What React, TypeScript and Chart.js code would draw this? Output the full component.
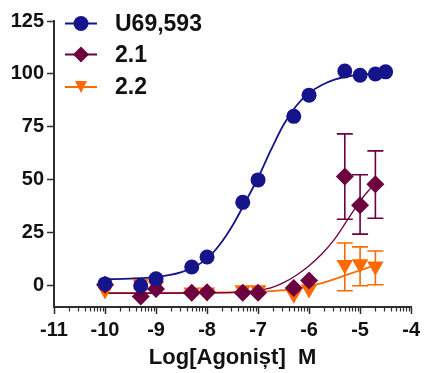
import React, { useEffect, useRef } from 'react';
import { Chart, registerables } from 'chart.js';

Chart.register(...registerables);

// ---------- DATA ----------
const seriesNames = ['U69,593', '2.1', '2.2'];
const xTickValues = [-11, -10, -9, -8, -7, -6, -5, -4];
const yTickValues = [0, 25, 50, 75, 100, 125];
const xTitle = 'Log[Agonișt]  M';

// U69,593 points
const u69X = [-10, -9.3, -9, -8.3, -8, -7.3, -7, -6.3, -6, -5.3, -5, -4.7, -4.5];
const u69Y = [0.9, 0, 3.3, 8.9, 13.6, 39.4, 50, 80, 90, 101.4, 99.4, 100, 101];

// 2.1 points + error bars
const c21X = [-10, -9.3, -9, -8.3, -8, -7.3, -7, -6.3, -6, -5.3, -5, -4.7];
const c21Y = [0.5, -5, -1.5, -3.3, -3, -3.3, -3.3, -1, 2.5, 51.6, 38, 48];
const c21Low = [null, null, null, null, null, null, null, null, null, 31.4, 24.4, 31.9];
const c21High = [null, null, null, null, null, null, null, null, null, 71.7, 52.4, 63.7];

// 2.2 points + error bars
const c22X = [-10, -9.3, -9, -8.3, -8, -7.3, -7, -6.3, -6, -5.3, -5, -4.7];
const c22Y = [-2, 1, 0, -3, -3, -2, -2, -4, -1.5, 10, 10.3, 9.2];
const c22Low = [null, null, null, null, null, null, null, null, null, -2.3, 0, 0.5];
const c22High = [null, null, null, null, null, null, null, null, null, 20.2, 18.4, 16.4];

// Fitted curves
const u69CurveX = [-10, -9.5, -9, -8.75, -8.5, -8.25, -8, -7.75, -7.5, -7.25, -7, -6.75, -6.5, -6.25, -6, -5.75, -5.5, -5.25, -5, -4.75, -4.5];
const u69CurveY = [3.1, 3.4, 4.1, 5, 6.5, 8.9, 12.8, 19.5, 28.5, 39.5, 51, 64, 76, 85, 91, 94.8, 97.3, 98.8, 99.7, 100.2, 100.5];
const c21CurveX = [-10, -9, -8, -7.5, -7, -6.75, -6.5, -6.25, -6, -5.75, -5.5, -5.25, -5, -4.85, -4.7];
const c21CurveY = [-3.5, -3.5, -3.4, -3.1, -2.2, -1, 1.5, 5, 9.5, 15, 22, 31, 40, 44.5, 48.5];
const c22CurveX = [-10, -9, -8, -7, -6.5, -6, -5.75, -5.5, -5.25, -5, -4.8, -4.6];
const c22CurveY = [-3.3, -3.3, -3.2, -2.8, -2, -0.3, 1.3, 3.2, 5.3, 7.3, 8.9, 10.5];

// ---------- STYLE ----------
const NAVY = '#15148a';
const MAROON = '#6d003f';
const ORANGE = '#ff6a00';
const AXIS = '#2e2e2e';
const FONT = "'Liberation Sans', Arial, sans-serif";
const seriesColors = [NAVY, MAROON, ORANGE];
const seriesShapes = ['circle', 'diamond', 'triangle'];

const zip = (xs: number[], ys: number[]) => xs.map((x, i) => ({ x, y: ys[i] }));

const errorBarPlugin = {
  id: 'errorBars',
  beforeDatasetsDraw(chart: any) {
    const { ctx } = chart;
    const xs = chart.scales.x;
    const ys = chart.scales.y;
    const groups = [
      { x: c21X, lo: c21Low, hi: c21High, color: MAROON },
      { x: c22X, lo: c22Low, hi: c22High, color: ORANGE },
    ];
    ctx.save();
    ctx.lineWidth = 1.6;
    groups.forEach((g) => {
      ctx.strokeStyle = g.color;
      g.x.forEach((xv, i) => {
        const lo = g.lo[i];
        const hi = g.hi[i];
        if (lo === null || hi === null) return;
        const px = xs.getPixelForValue(xv);
        const pLo = ys.getPixelForValue(lo as number);
        const pHi = ys.getPixelForValue(hi as number);
        const cap = 8;
        ctx.beginPath();
        ctx.moveTo(px, pLo);
        ctx.lineTo(px, pHi);
        ctx.moveTo(px - cap, pLo);
        ctx.lineTo(px + cap, pLo);
        ctx.moveTo(px - cap, pHi);
        ctx.lineTo(px + cap, pHi);
        ctx.stroke();
      });
    });
    ctx.restore();
  },
};

const minorTickPlugin = {
  id: 'minorTicks',
  afterDraw(chart: any) {
    const { ctx, chartArea } = chart;
    const xs = chart.scales.x;
    const y0 = chartArea.bottom;
    ctx.save();
    ctx.strokeStyle = AXIS;
    ctx.lineWidth = 1.2;
    for (let d = xTickValues[0]; d < xTickValues[xTickValues.length - 1]; d++) {
      for (let k = 2; k <= 9; k++) {
        const px = Math.round(xs.getPixelForValue(d + Math.log10(k))) + 0.5;
        ctx.beginPath();
        ctx.moveTo(px, y0);
        ctx.lineTo(px, y0 + 4.5);
        ctx.stroke();
      }
    }
    ctx.restore();
  },
};

function drawShape(ctx: CanvasRenderingContext2D, shape: string, x: number, y: number) {
  ctx.beginPath();
  if (shape === 'circle') {
    ctx.arc(x, y, 7.5, 0, Math.PI * 2);
  } else if (shape === 'diamond') {
    const r = 8;
    ctx.moveTo(x, y - r);
    ctx.lineTo(x + r, y);
    ctx.lineTo(x, y + r);
    ctx.lineTo(x - r, y);
    ctx.closePath();
  } else {
    ctx.moveTo(x - 6, y - 6);
    ctx.lineTo(x + 6, y - 6);
    ctx.lineTo(x, y + 6);
    ctx.closePath();
  }
  ctx.fill();
}

const legendPlugin = {
  id: 'customLegend',
  afterDraw(chart: any) {
    const { ctx } = chart;
    const rows = [23.5, 54.5, 87];
    ctx.save();
    seriesNames.forEach((name, i) => {
      const y = rows[i];
      const color = seriesColors[i];
      ctx.strokeStyle = color;
      ctx.lineWidth = 2;
      ctx.beginPath();
      ctx.moveTo(65, y);
      ctx.lineTo(97, y);
      ctx.stroke();
      ctx.fillStyle = color;
      drawShape(ctx, seriesShapes[i], 81, y);
      ctx.fillStyle = '#111';
      ctx.font = `bold 23px ${FONT}`;
      ctx.textAlign = 'left';
      ctx.textBaseline = 'middle';
      ctx.fillText(name, 115, y + 1);
    });
    ctx.restore();
  },
};

export default function App() {
  const ref = useRef<HTMLCanvasElement | null>(null);

  useEffect(() => {
    document.body.style.margin = '0';
    if (!ref.current) return;
    const pointDs = (data: any[], color: string, style: string, radius: number, rotation = 0) => ({
      type: 'line' as const,
      data,
      showLine: false,
      pointStyle: style,
      pointRadius: radius,
      pointRotation: rotation,
      pointBackgroundColor: color,
      pointBorderColor: color,
      pointBorderWidth: 0,
      clip: false,
    });
    const curveDs = (data: any[], color: string, width: number) => ({
      type: 'line' as const,
      data,
      showLine: true,
      borderColor: color,
      borderWidth: width,
      pointRadius: 0,
      cubicInterpolationMode: 'monotone' as const,
      fill: false,
      clip: false,
    });

    const chart = new Chart(ref.current, {
      type: 'line',
      data: {
        datasets: [
          pointDs(zip(u69X, u69Y), NAVY, 'circle', 7.5),
          pointDs(zip(c21X, c21Y), MAROON, 'rectRot', 9),
          pointDs(zip(c22X, c22Y), ORANGE, 'triangle', 9.5, 180),
          curveDs(zip(u69CurveX, u69CurveY), NAVY, 1.8),
          curveDs(zip(c21CurveX, c21CurveY), MAROON, 1.3),
          curveDs(zip(c22CurveX, c22CurveY), ORANGE, 1.8),
        ] as any,
      },
      options: {
        responsive: false,
        animation: false,
        layout: { padding: { top: 21, right: 11, left: 0, bottom: 0 } },
        plugins: {
          legend: { display: false },
          tooltip: { enabled: false },
        },
        scales: {
          x: {
            type: 'linear',
            position: 'bottom',
            min: -11,
            max: -4,
            afterBuildTicks: (s: any) => {
              s.ticks = xTickValues.map((v) => ({ value: v }));
            },
            afterFit: (s: any) => {
              s.height = 66;
            },
            ticks: {
              autoSkip: false,
              maxRotation: 0,
              padding: 4,
              color: '#111',
              font: { family: FONT, size: 20, weight: 'bold' },
              callback: (v: any) => String(v),
            },
            grid: {
              display: true,
              drawOnChartArea: false,
              drawTicks: true,
              tickLength: 7,
              tickWidth: 1.5,
              tickColor: AXIS,
              color: AXIS,
            },
            border: { display: true, color: AXIS, width: 2 },
            title: {
              display: true,
              text: xTitle,
              color: '#111',
              font: { family: FONT, size: 22, weight: 'bold' },
              padding: { top: 0, bottom: 2 },
            },
          },
          y: {
            type: 'linear',
            min: -10,
            max: 125,
            afterBuildTicks: (s: any) => {
              s.ticks = yTickValues.map((v) => ({ value: v }));
            },
            afterFit: (s: any) => {
              s.width = 54;
            },
            ticks: {
              padding: 3,
              color: '#111',
              font: { family: FONT, size: 20, weight: 'bold' },
              callback: (v: any) => String(v),
            },
            grid: {
              display: true,
              drawOnChartArea: false,
              drawTicks: true,
              tickLength: 7,
              tickWidth: 1.5,
              tickColor: AXIS,
              color: AXIS,
            },
            border: { display: true, color: AXIS, width: 2 },
          },
        },
      },
      plugins: [errorBarPlugin, minorTickPlugin, legendPlugin],
    } as any);
    return () => chart.destroy();
  }, []);

  return (
    <div style={{ position: 'absolute', left: 0, top: 0, width: 424, height: 373, background: '#fff' }}>
      <canvas ref={ref} width={424} height={373} style={{ display: 'block' }} />
    </div>
  );
}
